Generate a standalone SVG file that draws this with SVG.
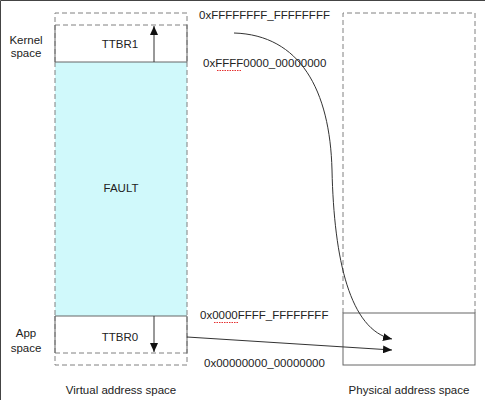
<svg xmlns="http://www.w3.org/2000/svg" width="485" height="400" viewBox="0 0 485 400">
<style>
.dash{fill:none;stroke:#808080;stroke-width:1;stroke-dasharray:5,3}
.solid{fill:none;stroke:#666;stroke-width:1}
.t{font-family:"Liberation Sans",Arial,sans-serif;font-size:11.5px;fill:#222}
.tc{text-anchor:middle}
.arr{fill:none;stroke:#333;stroke-width:1}
.sq{fill:none;stroke:#e53030;stroke-width:1;stroke-dasharray:1.5,1}
</style>
<defs>
<marker id="ah" markerWidth="10" markerHeight="8" refX="9" refY="4" orient="auto" markerUnits="userSpaceOnUse">
<path d="M0,0 L9,4 L0,8 Z" fill="#111"/>
</marker>
</defs>
<rect width="485" height="400" fill="#fff"/>
<path d="M0.5,400 V0.5 H485" fill="none" stroke="#444" stroke-width="1"/>

<g id="virtual">
<rect x="55" y="62" width="132" height="254" fill="#d0f9fb"/>
<path class="dash" d="M55,62 V13 H187 V62"/>
<line class="dash" x1="55" y1="25" x2="187" y2="25"/>
<path class="dash" d="M55,62 V316 M187,62 V316"/>
<path class="dash" d="M55,316 V365 H187 V316"/>
<line class="dash" x1="55" y1="353" x2="187" y2="353"/>
</g>

<g id="ttbr1">
<path class="solid" d="M55,25 V62 H187 V25"/>
<text class="t tc" x="120" y="48">TTBR1</text>
<line class="arr" x1="154" y1="62" x2="154" y2="26" marker-end="url(#ah)"/>
</g>

<g id="fault">
<text class="t tc" x="121" y="192">FAULT</text>
</g>

<g id="ttbr0">
<path class="solid" d="M55,353 V316 H187 V353"/>
<text class="t tc" x="120" y="341">TTBR0</text>
<line class="arr" x1="154" y1="316" x2="154" y2="352" marker-end="url(#ah)"/>
</g>

<g id="labels-left">
<text class="t tc" x="26" y="44">Kernel</text>
<text class="t tc" x="26" y="57">space</text>
<text class="t tc" x="26" y="337">App</text>
<text class="t tc" x="26" y="352">space</text>
<text class="t tc" x="121" y="394">Virtual address space</text>
</g>

<g id="addresses">
<text class="t" x="199" y="19">0xFFFFFFFF_FFFFFFFF</text>
<text class="t" x="203" y="67">0xFFFF0000_00000000</text>
<path class="sq" d="M217,70.5 H241"/>
<text class="t" x="200" y="319">0x0000FFFF_FFFFFFFF</text>
<path class="sq" d="M214,322.5 H238"/>
<text class="t" x="204" y="367">0x00000000_00000000</text>
</g>

<g id="physical">
<path class="dash" d="M343,313 V13 H475 V313"/>
<rect class="solid" x="343" y="313" width="132" height="52"/>
<text class="t tc" x="409" y="394">Physical address space</text>
</g>

<g id="connectors">
<path class="arr" d="M234,33 C300,35 330,90 332,170 C334,260 350,330 392,339" marker-end="url(#ah)"/>
<line class="arr" x1="187" y1="337" x2="392" y2="350" marker-end="url(#ah)"/>
</g>
</svg>
